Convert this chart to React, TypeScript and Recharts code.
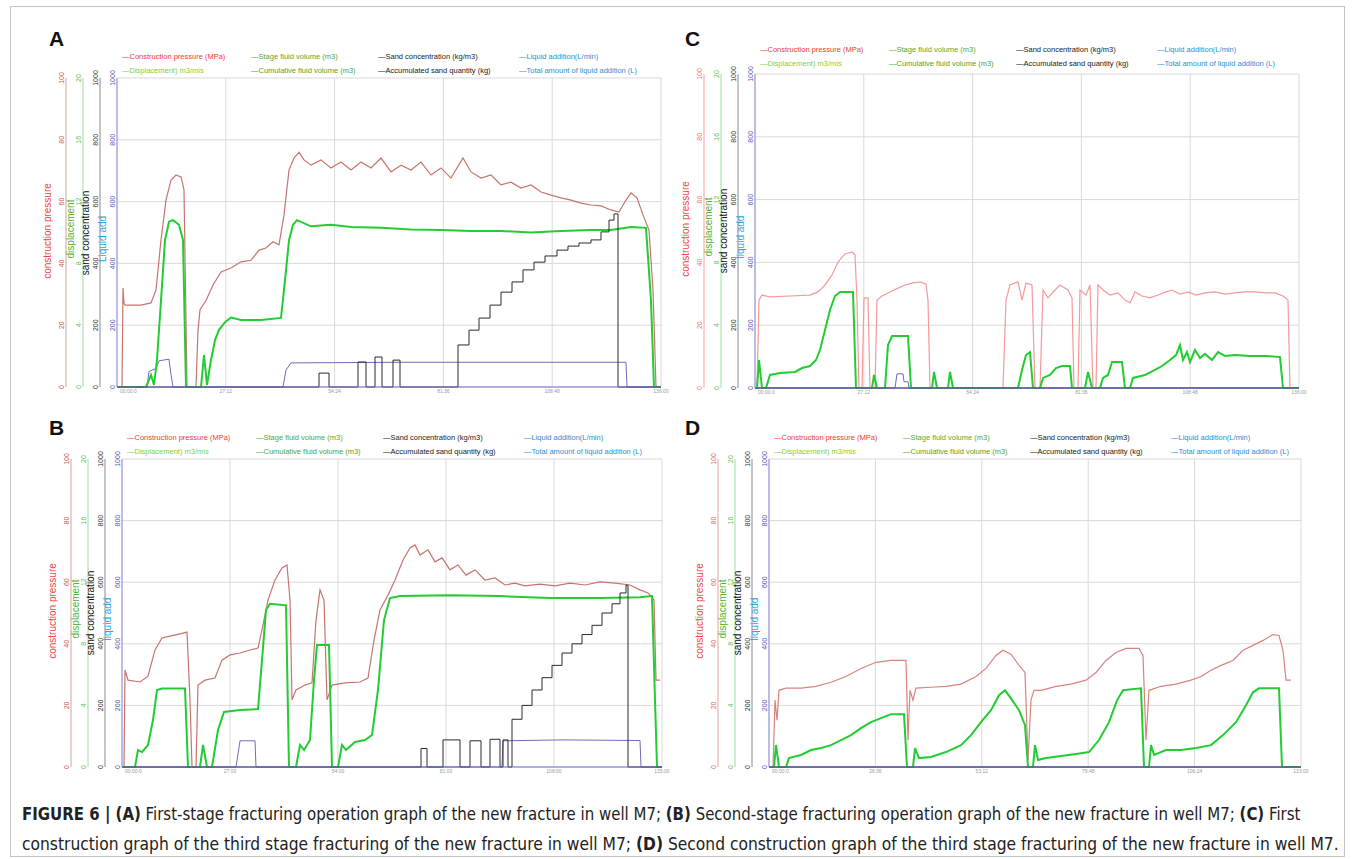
import { CartesianGrid, ComposedChart, Line, XAxis, YAxis } from "recharts";

type Pt = [number, number];

// values: [minutes, value]
// pressure in MPa (0-100), displacement 0-20, sand / liquid 0-1000

const A_PRESSURE: Pt[] = [
  [0, 0], [1.25, 0], [1.5, 32], [1.75, 27], [2, 26.5], [6, 26.5], [8.5, 27.2], [9.75, 31.4], [11, 47.6],
  [12.25, 60.5], [13.5, 67], [14.75, 68.6], [16, 68], [16.75, 63.8], [17.5, 0], [19.75, 0], [20.25, 18.4],
  [20.75, 25], [22.25, 28], [24, 33], [26, 37.2], [28.5, 38.5], [31, 40.5], [33.5, 41], [35.5, 44.3],
  [37.25, 45], [39, 47], [40.5, 46], [41.75, 55.7], [43, 70.2], [44.25, 74.1], [45.5, 76], [46.75, 73.5],
  [48.5, 71.8], [51, 73.5], [53.5, 70.9], [56, 72.8], [58.5, 70.2], [61, 72.8], [63.5, 70.9], [66, 74.1],
  [68.5, 69.6], [71, 71.8], [73.5, 70.2], [76, 72.8], [78.5, 68.6], [81, 70.9], [83.5, 67.6], [86.5, 74.1],
  [88.5, 69.6], [91, 67.6], [93.5, 68.6], [96, 65.4], [98.5, 66.3], [101, 64.4], [103.5, 65.4], [106, 63.1],
  [108.5, 62.1], [111, 61.2], [113.5, 60.5], [116, 59.5], [118.5, 58.9], [121, 58.6], [123.5, 57.3],
  [125.5, 56.6], [127.25, 60.5], [128.5, 62.8], [130, 61.2], [131.5, 55.7], [133, 50.8], [134, 31.4],
  [134.75, 0], [136, 0],
];
const A_DISP: Pt[] = [
  [0, 0], [7.25, 0], [8.5, 0.78], [9.25, 0.13], [10, 1.75], [11, 5.6], [12, 9.5], [13, 10.7], [14, 10.8],
  [15.5, 10.5], [16.5, 9.5], [17.25, 0], [21, 0], [21.75, 2.07], [22.5, 0.13], [23.5, 1.75], [24.5, 3.04],
  [25.5, 3.7], [27, 4.2], [28.5, 4.5], [31, 4.34], [36, 4.34], [41, 4.47], [42, 6.9], [43, 9.5], [44, 10.5],
  [45, 10.8], [48.5, 10.4], [53.5, 10.5], [58.5, 10.35], [66, 10.3], [73.5, 10.2], [81, 10.16], [88.5, 10.1],
  [96, 10.1], [103.5, 10.0], [111, 10.1], [118.5, 10.16], [123.5, 10.16], [128.5, 10.35], [132.25, 10.3],
  [133.5, 5.6], [134.25, 0], [136, 0],
];
const A_SAND: Pt[] = [
  [0, 0], [50.5, 45], [53, 0], [60.25, 81], [62.25, 0], [64.5, 97], [66.25, 0], [69, 87], [70.75, 0],
  [85.25, 136], [88, 184], [90.5, 223], [93.25, 265], [96, 307], [98.75, 340], [101.5, 379], [104.25, 404],
  [107, 424], [110, 443], [112.75, 456], [115.5, 466], [118.5, 476], [121, 502], [123, 540], [124.25, 560],
  [125.25, 0], [136, 0],
];
const A_LIQUID: Pt[] = [
  [0, 0], [7.5, 0], [8, 50], [9.75, 60], [10.5, 85], [13, 90], [13.5, 40], [14, 0], [41.5, 0], [42.25, 55],
  [43.5, 78], [71, 80], [127.25, 80], [127.5, 0], [136, 0],
];

const B_PRESSURE: Pt[] = [
  [0, 0], [0.5, 0], [0.75, 31.5], [1.5, 28.2], [4.5, 27.6], [6.5, 29.5], [8.25, 38], [10, 41.9], [12, 42.5],
  [14.5, 43.2], [16.25, 43.8], [17, 21.8], [17.5, 0], [18.5, 0], [19, 26.6], [20.75, 28.2], [23.25, 28.9],
  [25, 34.7], [27, 36.4], [29.5, 37], [32, 38], [34, 38.6], [35, 44.5], [36.5, 54.2], [38.25, 60.7],
  [40, 64.6], [41.25, 65.6], [42, 54.2], [42.5, 21.8], [43.5, 25], [45.75, 26.6], [47.5, 27.3], [48.5, 47.7],
  [49.5, 57.5], [50.5, 54.2], [51.25, 21.8], [52.5, 26.6], [55.75, 27.3], [59.5, 27.6], [61.5, 28.9],
  [63, 41.2], [64.5, 51], [66.5, 55.8], [68.25, 60.7], [70.25, 67.2], [72, 71.1], [73.25, 72.1], [74.5, 68.8],
  [76.5, 70.5], [78.25, 66.6], [80, 67.9], [82, 64], [84, 65.6], [86, 62.3], [88.25, 64], [90.75, 60.7],
  [93.25, 61.4], [95.75, 59.1], [98.25, 59.7], [100.75, 58.8], [104.5, 59.4], [108.25, 58.8], [112, 59.7],
  [115.75, 59.1], [119.5, 60.1], [123.25, 59.7], [127, 59.1], [129.5, 57.5], [131.5, 56.5], [133, 54.2],
  [133.5, 28.2], [134.5, 28.2],
];
const B_DISP: Pt[] = [
  [0, 0], [3.25, 0], [4, 1.1], [5, 0.97], [6.5, 1.43], [7.75, 3.05], [8.75, 5], [10, 5.1], [15.75, 5.1],
  [16.5, 0], [19.5, 0], [20.25, 1.43], [21.25, 0], [22.5, 0], [24, 2.4], [25.5, 3.57], [29.5, 3.7],
  [34, 3.76], [35, 6.94], [36, 10.2], [37, 10.6], [41, 10.5], [41.75, 0], [43.5, 0], [44.5, 1.43],
  [45.5, 1.1], [47, 1.75], [48, 5.65], [48.75, 7.92], [51.75, 7.92], [52.5, 0], [54, 0], [55, 1.43],
  [56, 1.1], [58.25, 1.62], [60.75, 1.75], [62.5, 2.08], [64, 5], [65.5, 9.54], [67, 10.97], [69.5, 11.1],
  [82, 11.16], [94.5, 11.1], [107, 10.97], [119.5, 10.97], [129.5, 11.03], [132.5, 11.1], [133.25, 4.35],
  [133.75, 0], [135, 0],
];
const B_SAND: Pt[] = [
  [0, 0], [74.75, 60], [76.25, 0], [80.25, 88], [84.5, 0], [87, 85], [89.75, 0], [92, 90], [94.5, 0],
  [95.25, 88], [96.5, 0], [97.5, 155], [100, 200], [102.5, 250], [105, 290], [107.5, 330], [110, 370],
  [112.5, 400], [115, 430], [117.5, 460], [120, 500], [122.5, 530], [124.5, 565], [126, 590], [126.5, 0],
  [135, 0],
];
const B_LIQUID: Pt[] = [
  [0, 0], [28.5, 0], [29.5, 85], [33.25, 85], [33.5, 0], [95, 0], [95.25, 85], [110, 88], [129.5, 86],
  [129.75, 0], [135, 0],
];

const C_PRESSURE: Pt[] = [
  [0, 0], [0.5, 0], [1, 28], [1.75, 29.6], [3.75, 29], [8.75, 29.3], [13.75, 29.6], [15.75, 30.6],
  [17.5, 32.8], [19.25, 36], [20.75, 40.1], [22.5, 42.7], [24.25, 43.3], [25, 42.4], [25.5, 28], [26, 0],
  [26.75, 0], [27.25, 28.7], [28.25, 28.7], [28.75, 0], [30, 0], [30.5, 28], [31.75, 29.3], [33.75, 30.6],
  [35.75, 31.8], [37.5, 32.8], [39.25, 33.4], [41.25, 33.8], [42.75, 33.1], [43.25, 28], [43.75, 0],
  [62, 0], [62.75, 28], [63.75, 32.8], [65.75, 33.8], [66.75, 28], [67.75, 33.4], [69.25, 32.8], [70, 0],
  [71.25, 0], [72, 31.2], [73.25, 28.7], [75, 31.2], [76.25, 32.8], [78.25, 31.2], [79.25, 28.7],
  [79.75, 0], [80.75, 0], [81.25, 31.2], [82.75, 29.6], [83.75, 32.8], [84.5, 0], [85.25, 0], [85.75, 32.8],
  [87, 31.2], [88.75, 29.6], [90.75, 30.3], [92.5, 28], [93.75, 27.1], [95, 30.6], [96.75, 29.3],
  [98.75, 28.7], [100.75, 29.6], [102.75, 30.6], [104.25, 31.2], [106.25, 29.9], [108.25, 30.6],
  [110.25, 29.6], [112.5, 30.3], [115, 30.6], [117.5, 29.9], [120, 30.3], [122.5, 30.6], [125, 30.6],
  [127.5, 30.3], [130, 30.3], [132, 29.3], [133.25, 28], [133.75, 0], [136, 0],
];
const C_DISP: Pt[] = [
  [0, 0], [0.5, 0], [1, 1.78], [1.75, 0], [2.75, 0], [3.75, 0.83], [6.25, 0.96], [10, 1.02], [11.75, 1.27],
  [13.75, 1.4], [15.25, 1.78], [16.25, 2.42], [17.5, 3.69], [18.75, 4.97], [20, 5.86], [21.25, 6.12],
  [24.5, 6.12], [25.25, 0], [29.25, 0], [29.75, 0.83], [30.5, 0], [32.5, 0], [33.25, 2.74], [34.25, 3.31],
  [38.25, 3.31], [39, 0], [44.25, 0], [44.75, 1.02], [45.5, 0], [48.25, 0], [48.75, 1.02], [49.5, 0],
  [65.75, 0], [66.75, 1.15], [67.75, 2.1], [68.75, 2.29], [69.5, 0], [71.25, 0], [72, 0.64], [73.75, 0.83],
  [75.25, 1.27], [76.75, 1.4], [78.75, 1.4], [79.25, 0], [82.5, 0], [83.25, 1.02], [84.25, 0], [86.25, 0],
  [87, 0.64], [88.25, 0.83], [89.25, 1.66], [91.75, 1.66], [92.5, 0], [93.75, 0], [94.5, 0.64], [97.5, 0.83],
  [100, 1.15], [101.75, 1.4], [103.75, 1.78], [105.25, 2.1], [106.25, 2.74], [107, 1.78], [108, 2.29],
  [108.75, 1.66], [110, 2.42], [111.25, 1.91], [112.5, 2.17], [114.25, 1.78], [115.75, 2.29], [117.5, 2.04],
  [120, 2.1], [123.75, 2.04], [127.5, 2.04], [131.25, 1.97], [132, 0], [136, 0],
];
const C_SAND: Pt[] = [[0, 0], [136, 0]];
const C_LIQUID: Pt[] = [
  [0, 0], [35, 0], [35.5, 45], [37, 45], [37.25, 20], [38.25, 20], [38.5, 0], [136, 0],
];

const D_PRESSURE: Pt[] = [
  [0, 0], [1, 0], [1.5, 21.7], [2, 15.2], [2.5, 24.9], [4.25, 25.6], [8, 25.6], [11.75, 26.2], [15.5, 27.5],
  [19.25, 29.4], [23, 32], [26.75, 34], [30.5, 34.6], [34.25, 34.6], [34.75, 8.7], [35.25, 24.9],
  [36, 21.7], [36.75, 25.6], [40.5, 25.9], [44.25, 26.2], [48, 26.9], [51.75, 29.4], [54.25, 32],
  [56.75, 36.2], [58.5, 37.9], [60.5, 36.6], [62.5, 33], [64, 30.7], [64.75, 2.3], [65.5, 21.7],
  [66.25, 24.9], [68, 24.9], [71.75, 26.2], [75.5, 26.9], [79.25, 28.2], [81.75, 30.7], [84.25, 34.6],
  [86.75, 37.2], [89.25, 38.5], [92.5, 38.5], [93.5, 36.2], [94.25, 8.7], [95, 24.9], [98, 26.2],
  [101.75, 26.9], [105.5, 28.2], [108, 29.4], [110.5, 31.4], [113, 33], [116, 34.6], [118.5, 37.9],
  [121, 39.5], [123.5, 41.1], [126, 43], [127.5, 42.7], [128.5, 37.9], [129.25, 28.2], [130.5, 28.2],
];
const D_DISP: Pt[] = [
  [0, 0], [1.25, 0], [1.75, 1.42], [2.5, 0], [4.25, 0], [5, 0.58], [8, 0.78], [10.5, 1.1], [13, 1.23],
  [15.5, 1.42], [18, 1.75], [20.5, 2.07], [23, 2.52], [25.5, 2.91], [28, 3.17], [30.5, 3.43], [33.75, 3.43],
  [34.5, 0], [36, 0], [36.5, 1.23], [37.5, 0.58], [40.5, 0.65], [44.25, 0.97], [48, 1.42], [50.5, 2.07],
  [53, 2.91], [55.5, 3.69], [57.5, 4.66], [59, 4.98], [60.5, 4.46], [62.5, 3.69], [64, 2.72], [64.75, 0],
  [66, 0], [66.5, 1.42], [67.25, 0.45], [69.25, 0.58], [73, 0.71], [76.75, 0.84], [80, 0.97], [82.5, 1.75],
  [85, 2.91], [87, 4.33], [88.5, 4.98], [93, 5.11], [93.75, 0], [95, 0], [95.5, 1.42], [96.25, 0.78],
  [99.25, 1.1], [103, 1.1], [106.75, 1.23], [110.5, 1.42], [113.5, 2.07], [116.75, 2.91], [119.25, 4.01],
  [121, 4.85], [122.5, 5.11], [127.5, 5.11], [128.25, 0], [133, 0],
];
const D_SAND: Pt[] = [[0, 0], [133, 0]];
const D_LIQUID: Pt[] = [[0, 0], [133, 0]];

const A_TICKS = [0, 27.2, 54.4, 81.6, 108.8, 136];
const B_TICKS = [0, 27, 54, 81, 108, 135];
const C_TICKS = [0, 27.2, 54.4, 81.6, 108.8, 136];
const D_TICKS = [0, 26.6, 53.2, 79.8, 106.4, 133];

const PRESSURE_TICKS = [0, 20, 40, 60, 80, 100];
const DISP_TICKS = [0, 4, 8, 12, 16, 20];
const SAND_TICKS = [0, 200, 400, 600, 800, 1000];
const LIQUID_TICKS = [0, 200, 400, 600, 800, 1000];

const LEGEND: { text: string; color: string }[][] = [
  [
    { text: "—Construction pressure (MPa)", color: "#ee3b33" },
    { text: "—Displacement) m3/mis", color: "#7fd13b" },
  ],
  [
    { text: "—Stage fluid volume (m3)", color: "#57a92f" },
    { text: "—Cumulative fluid volume (m3)", color: "#4fa52b" },
  ],
  [
    { text: "—Sand concentration (kg/m3)", color: "#1a1a1a" },
    { text: "—Accumulated sand quantity (kg)", color: "#1a1a1a" },
  ],
  [
    { text: "—Liquid addition(L/min)", color: "#2a8fd2" },
    { text: "—Total amount of liquid addition (L)", color: "#2a8fd2" },
  ],
];
const LEGEND_COLS = [5, 134, 261, 402];

const FONT = '"Liberation Sans", Arial, sans-serif';
const AW = 17; // width of each left axis

type PanelCfg = {
  letter: string;
  letterPos: [number, number];
  plot: { left: number; top: number; right: number; bottom: number };
  duration: number;
  ticks: number[];
  pressure: Pt[];
  disp: Pt[];
  sand: Pt[];
  liquid: Pt[];
  redLine: string;
  redAxis: string;
  redText: string;
  legendTop: number;
  liquidTitle: string;
};

const rows = (pts: Pt[]) => pts.map(([t, v]) => ({ t, v }));

function fmtTime(t: number, i: number) {
  if (i === 0) return "00:00:0";
  const m = Math.floor(t);
  const s = Math.round((t - m) * 60);
  return `${m}:${String(s).padStart(2, "0")}`;
}

const rotTick = (color: string) => (props: any) => {
  const { x, y, payload } = props;
  const bx = x - 2;
  return (
    <text
      x={bx}
      y={y}
      transform={`rotate(-90 ${bx} ${y})`}
      textAnchor="middle"
      fontSize={7}
      fontFamily={FONT}
      fill={color}
    >
      {payload.value}
    </text>
  );
};

// axis ids sort in the order they stack outward from the plot
const Y_LIQUID = "y1_liquid";
const Y_SAND = "y2_sand";
const Y_DISP = "y3_disp";
const Y_PRESSURE = "y4_pressure";

function Panel(p: PanelCfg) {
  const { left: pl, top: pt, right: pr, bottom: pb } = p.plot;
  const ML = 30, MT = 12, MR = 8, XH = 14, MB = 2;
  const cLeft = pl - 4 * AW - ML;
  const cTop = pt - MT;
  const width = pr + MR - cLeft;
  const height = pb + XH + MB - cTop;
  const mid = (pt + pb) / 2;

  const titles = [
    { text: "construction pressure", color: "#ee4444", x: pl - 69, y: mid - 2 },
    { text: "displacement", color: "#4db52c", x: pl - 46, y: mid - 4 },
    { text: "sand concentration", color: "#111111", x: pl - 31, y: mid },
    { text: p.liquidTitle, color: "#2aa3e2", x: pl - 14, y: mid + 6 },
  ];

  return (
    <>
      <div style={{ position: "absolute", left: cLeft, top: cTop }}>
        <ComposedChart
          width={width}
          height={height}
          margin={{ top: MT, right: MR, bottom: MB, left: ML }}
        >
          <CartesianGrid yAxisId={Y_SAND} stroke="#d9d9d9" />
          <XAxis
            dataKey="t"
            type="number"
            domain={[0, p.duration]}
            ticks={p.ticks}
            interval={0}
            allowDataOverflow
            height={XH}
            tickLine={false}
            tickSize={0}
            tickMargin={0}
            axisLine={{ stroke: "#7472d2" }}
            tick={(props: any) => {
              const { x, y, payload, index } = props;
              const first = index === 0;
              return (
                <text
                  x={first ? x + 3 : x}
                  y={y + 6}
                  textAnchor={first ? "start" : "middle"}
                  fontSize={5}
                  fontFamily={FONT}
                  fill="#9a9a9a"
                >
                  {fmtTime(payload.value, index)}
                </text>
              );
            }}
          />
          <YAxis
            yAxisId={Y_LIQUID}
            width={AW}
            domain={[0, 1000]}
            ticks={LIQUID_TICKS}
            interval={0}
            tickLine={false}
            tickSize={0}
            tickMargin={0}
            axisLine={{ stroke: "#8c8ce0" }}
            tick={rotTick("#5656b8")}
          />
          <YAxis
            yAxisId={Y_SAND}
            width={AW}
            domain={[0, 1000]}
            ticks={SAND_TICKS}
            interval={0}
            tickLine={false}
            tickSize={0}
            tickMargin={0}
            axisLine={{ stroke: "#8a8a8a" }}
            tick={rotTick("#333333")}
          />
          <YAxis
            yAxisId={Y_DISP}
            width={AW}
            domain={[0, 20]}
            ticks={DISP_TICKS}
            interval={0}
            tickLine={false}
            tickSize={0}
            tickMargin={0}
            axisLine={{ stroke: "#9de09d" }}
            tick={rotTick("#5cc05c")}
          />
          <YAxis
            yAxisId={Y_PRESSURE}
            width={AW}
            domain={[0, 100]}
            ticks={PRESSURE_TICKS}
            interval={0}
            tickLine={false}
            tickSize={0}
            tickMargin={0}
            axisLine={{ stroke: p.redAxis }}
            tick={rotTick(p.redText)}
          />
          <Line
            yAxisId={Y_PRESSURE}
            data={rows(p.pressure)}
            dataKey="v"
            type="linear"
            stroke={p.redLine}
            strokeWidth={1.2}
            dot={false}
            isAnimationActive={false}
          />
          <Line
            yAxisId={Y_LIQUID}
            data={rows(p.liquid)}
            dataKey="v"
            type="linear"
            stroke="#6c6cb8"
            strokeWidth={1}
            dot={false}
            isAnimationActive={false}
          />
          <Line
            yAxisId={Y_DISP}
            data={rows(p.disp)}
            dataKey="v"
            type="linear"
            stroke="#22cc33"
            strokeWidth={2}
            dot={false}
            isAnimationActive={false}
          />
          <Line
            yAxisId={Y_SAND}
            data={rows(p.sand)}
            dataKey="v"
            type="stepAfter"
            stroke="#2a2a2a"
            strokeWidth={1}
            dot={false}
            isAnimationActive={false}
          />
        </ComposedChart>
      </div>

      {titles.map((t) => (
        <div
          key={t.text}
          style={{
            position: "absolute",
            left: t.x,
            top: t.y,
            transform: "translate(-50%, -50%) rotate(-90deg)",
            whiteSpace: "nowrap",
            fontFamily: FONT,
            fontSize: 10,
            lineHeight: "10px",
            color: t.color,
          }}
        >
          {t.text}
        </div>
      ))}

      {LEGEND.map((col, ci) =>
        col.map((item, ri) => (
          <div
            key={`${ci}-${ri}`}
            style={{
              position: "absolute",
              left: pl + LEGEND_COLS[ci],
              top: p.legendTop + ri * 14,
              whiteSpace: "nowrap",
              fontFamily: FONT,
              fontSize: 7.5,
              lineHeight: "9px",
              color: item.color,
            }}
          >
            {item.text}
          </div>
        ))
      )}

      <div
        style={{
          position: "absolute",
          left: p.letterPos[0],
          top: p.letterPos[1],
          fontFamily: FONT,
          fontWeight: 700,
          fontSize: 21,
          lineHeight: "21px",
          color: "#111",
        }}
      >
        {p.letter}
      </div>
    </>
  );
}

const PANELS: PanelCfg[] = [
  {
    letter: "A", letterPos: [49, 28],
    plot: { left: 117, top: 78, right: 661, bottom: 387 },
    duration: 136, ticks: A_TICKS,
    pressure: A_PRESSURE, disp: A_DISP, sand: A_SAND, liquid: A_LIQUID,
    redLine: "#c8746d", redAxis: "#d6a09c", redText: "#c25a55",
    legendTop: 52, liquidTitle: "Liquid add",
  },
  {
    letter: "B", letterPos: [49, 417],
    plot: { left: 122, top: 459, right: 662, bottom: 767 },
    duration: 135, ticks: B_TICKS,
    pressure: B_PRESSURE, disp: B_DISP, sand: B_SAND, liquid: B_LIQUID,
    redLine: "#c8746d", redAxis: "#d6a09c", redText: "#c25a55",
    legendTop: 433, liquidTitle: "liquid add",
  },
  {
    letter: "C", letterPos: [685, 28],
    plot: { left: 755, top: 74, right: 1299, bottom: 388 },
    duration: 136, ticks: C_TICKS,
    pressure: C_PRESSURE, disp: C_DISP, sand: C_SAND, liquid: C_LIQUID,
    redLine: "#f59a9a", redAxis: "#ffa0a0", redText: "#ff6f6f",
    legendTop: 45, liquidTitle: "liquid add",
  },
  {
    letter: "D", letterPos: [685, 417],
    plot: { left: 769, top: 459, right: 1301, bottom: 767 },
    duration: 133, ticks: D_TICKS,
    pressure: D_PRESSURE, disp: D_DISP, sand: D_SAND, liquid: D_LIQUID,
    redLine: "#d9827f", redAxis: "#e3a3a3", redText: "#d86a6a",
    legendTop: 433, liquidTitle: "liquid add",
  },
];

const captionLine = (scale: number) => ({
  display: "inline-block",
  transform: `scaleX(${scale})`,
  transformOrigin: "0 0",
  whiteSpace: "nowrap" as const,
});

export default function App() {
  return (
    <div
      style={{
        position: "absolute",
        left: 0,
        top: 0,
        width: 1354,
        height: 859,
        background: "#fff",
        overflow: "hidden",
      }}
    >
      <div
        style={{
          position: "absolute",
          left: 10,
          top: 6,
          width: 1333,
          height: 849,
          border: "1px solid #c4c4c4",
        }}
      />
      {PANELS.map((p) => (
        <Panel key={p.letter} {...p} />
      ))}
      <div
        style={{
          position: "absolute",
          left: 22,
          top: 799,
          fontFamily: '"DejaVu Sans Condensed", "Liberation Sans", sans-serif',
          fontSize: 18,
          lineHeight: "30px",
          color: "#222",
        }}
      >
        <div style={captionLine(0.925)}>
          <b>FIGURE 6 | (A)</b> First-stage fracturing operation graph of the new fracture in well M7;{" "}
          <b>(B)</b> Second-stage fracturing operation graph of the new fracture in well M7; <b>(C)</b> First
        </div>
        <br />
        <div style={captionLine(0.958)}>
          construction graph of the third stage fracturing of the new fracture in well M7; <b>(D)</b> Second
          construction graph of the third stage fracturing of the new fracture in well M7.
        </div>
      </div>
    </div>
  );
}
